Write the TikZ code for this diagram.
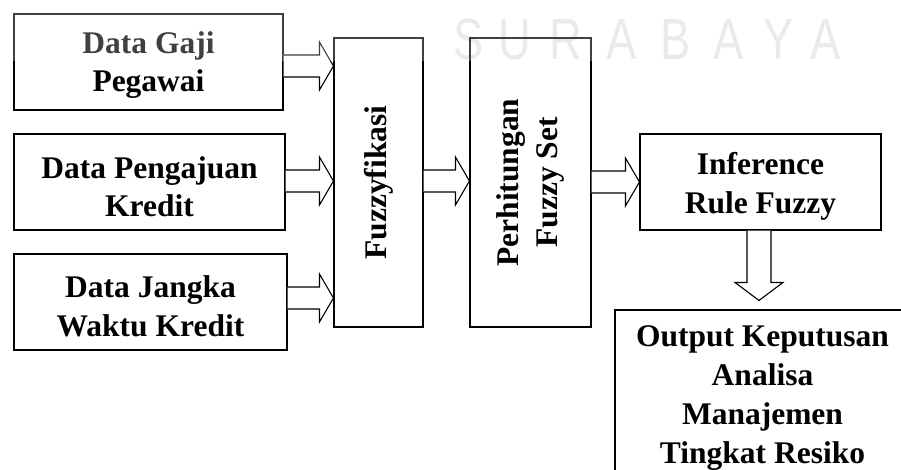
\documentclass[tikz,border=0pt]{standalone}
\usepackage{fontspec}
\setmainfont{Liberation Serif}
\newfontfamily\wmfont{Liberation Sans}
\usetikzlibrary{calc}
\tikzset{
  txt/.style={inner sep=0pt, align=center,
    font=\bfseries\fontsize{31.5}{38.5}\selectfont},
  box/.style={draw, line width=1.1pt, inner sep=0pt, txt},
  barrow/.style={draw, line width=1.1pt, fill=white, line join=miter},
  wm/.style={anchor=base, inner sep=0pt, text=black!11,
    font=\wmfont\fontsize{58}{58}\selectfont},
}
\newcommand\harr[3]{%
  \coordinate (#1-s) at (#1.east |- 0,#3);
  \coordinate (#1-t) at (#2.west |- 0,#3);
  \draw[barrow] ($(#1-s)+(0,-11)$) -- ($(#1-t)+(-14,-11)$) -- ($(#1-t)+(-14,-24)$)
    -- (#1-t) -- ($(#1-t)+(-14,24)$) -- ($(#1-t)+(-14,11)$) -- ($(#1-s)+(0,11)$);}
\begin{document}
\begin{tikzpicture}[x=1pt,y=-1pt]
\useasboundingbox (0,0) rectangle (901,470);
\clip (0,0) rectangle (901,470);
% watermark
\node[wm] (w1) at (468.5,60) {\scalebox{0.78}[1]{S}};
\node[wm] (w2) at (515,60) {\scalebox{0.78}[1]{U}};
\node[wm] (w3) at (566,60) {\scalebox{0.78}[1]{R}};
\node[wm] (w4) at (622,60) {\scalebox{0.78}[1]{A}};
\node[wm] (w5) at (676,60) {\scalebox{0.78}[1]{B}};
\node[wm] (w6) at (729,60) {\scalebox{0.78}[1]{A}};
\node[wm] (w7) at (778.5,60) {\scalebox{0.78}[1]{Y}};
\node[wm] (w8) at (826,60) {\scalebox{0.78}[1]{A}};
% boxes
\node[box, minimum width=269, minimum height=96,
  label={[txt, yshift=-3pt]center:{Data Gaji\\Pegawai}}] (b1) at (148.5,62) {};
\node[box, minimum width=271, minimum height=96,
  label={[txt, yshift=-4.5pt]center:{Data Pengajuan\\Kredit}}] (b2) at (149.5,182) {};
\node[box, minimum width=273, minimum height=96,
  label={[txt, yshift=-4.5pt]center:{Data Jangka\\Waktu Kredit}}] (b3) at (150.5,302) {};
\node[box, minimum width=89, minimum height=289] (fz) at (378.5,182.5) {\rotatebox{90}{Fuzzyfikasi}};
\node[box, minimum width=121, minimum height=289] (ph) at (530.5,182.5)
  {\rotatebox{90}{\begin{tabular}{@{}c@{}}Perhitungan\\Fuzzy Set\end{tabular}}};
\node[box, minimum width=241, minimum height=96,
  label={[txt, yshift=-4.5pt]center:{Inference\\Rule Fuzzy}}] (inf) at (760.5,182) {};
\node[box, minimum width=295, minimum height=172,
  label={[txt, font=\bfseries\fontsize{31.5}{39}\selectfont, yshift=-2pt]center:{Output Keputusan\\Analisa\\Manajemen\\Tingkat Resiko}}] (out) at (762.5,396) {};
% arrows
\harr{b1}{fz}{66}
\harr{b2}{fz}{181}
\harr{b3}{fz}{298}
\harr{fz}{ph}{181}
\harr{ph}{inf}{182}
\coordinate (ds) at (759,0 |- inf.south);
\coordinate (dt) at ($(759,0 |- out.north)+(0,-9)$);
\draw[barrow] ($(ds)+(-12,0)$) -- ($(dt)+(-12,-18)$) -- ($(dt)+(-24,-18)$) -- (dt)
  -- ($(dt)+(24,-18)$) -- ($(dt)+(12,-18)$) -- ($(ds)+(12,0)$);
% watermark band
\fill[white, opacity=0.25] (0,0) rectangle (901,61);
\end{tikzpicture}
\end{document}
